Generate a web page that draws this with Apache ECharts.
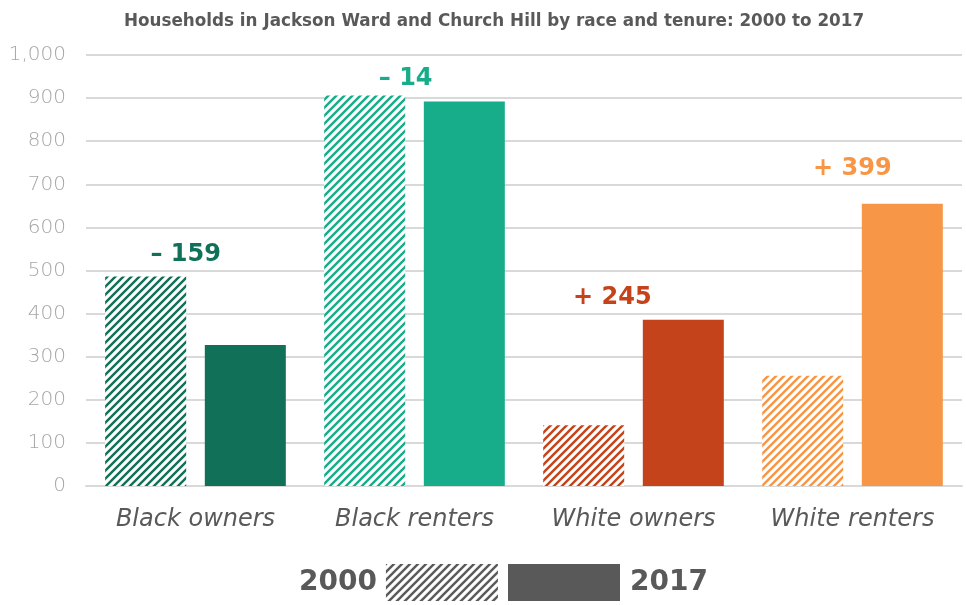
<!DOCTYPE html>
<html>
<head>
<meta charset="utf-8">
<script src="https://cdn.jsdelivr.net/npm/echarts@6/dist/echarts.min.js"></script>
<style>
  html, body { margin: 0; padding: 0; background: #fff; }
  #main { width: 966px; height: 605px; }
</style>
</head>
<body>
<div id="main"></div>
<script>
let categories = ['Black owners', 'Black renters', 'White owners', 'White renters'];
let households2000 = [486, 906, 141, 256];
let households2017 = [327, 892, 386, 655];
let yTicks = [0, 100, 200, 300, 400, 500, 600, 700, 800, 900, 1000];

let colors = ['#117158', '#17ad8a', '#c4431a', '#f79646'];
let legendGray = '#595959';
// nudges so each change label sits roughly where it is in the original
let labelNudge = [[-10, -2], [-9, 3], [-21, -2], [0, -15]];

function hatch(color) {
  let s = 8;
  let c = document.createElement('canvas');
  c.width = s;
  c.height = s;
  let ctx = c.getContext('2d');
  ctx.fillStyle = '#fff';
  ctx.fillRect(0, 0, s, s);
  ctx.strokeStyle = color;
  ctx.lineWidth = 2.4;
  ctx.beginPath();
  ctx.moveTo(-2, s + 2); ctx.lineTo(s + 2, -2);
  ctx.moveTo(-2, 2); ctx.lineTo(2, -2);
  ctx.moveTo(s - 2, s + 2); ctx.lineTo(s + 2, s - 2);
  ctx.stroke();
  return { image: c, repeat: 'repeat' };
}

function changeText(i) {
  let d = households2017[i] - households2000[i];
  return (d < 0 ? '\u2013 ' : '+ ') + Math.abs(d);
}

function changeLabel(i, onFirst) {
  let n = labelNudge[i];
  return {
    show: true,
    position: 'top',
    distance: 8,
    offset: [(onFirst ? 50 : -50) + n[0], n[1]],
    formatter: changeText(i),
    color: colors[i],
    fontFamily: 'DejaVu Sans',
    fontWeight: 'bold',
    fontSize: 24
  };
}

let data2000 = households2000.map(function (v, i) {
  let item = { value: v, itemStyle: { color: hatch(colors[i]) } };
  if (v >= households2017[i]) item.label = changeLabel(i, true);
  return item;
});
let data2017 = households2017.map(function (v, i) {
  let item = { value: v, itemStyle: { color: colors[i] } };
  if (v > households2000[i]) item.label = changeLabel(i, false);
  return item;
});

let myChart = echarts.init(document.getElementById('main'));

let legendText = {
  fontFamily: 'DejaVu Sans',
  fontWeight: 'bold',
  fontSize: 28,
  color: legendGray
};

let option = {
  animation: false,
  title: {
    text: 'Households in Jackson Ward and Church Hill by race and tenure: 2000 to 2017',
    left: 489,
    textAlign: 'center',
    top: 8,
    textStyle: {
      fontFamily: 'DejaVu Sans',
      fontWeight: 'bold',
      fontSize: 16.8,
      color: legendGray
    }
  },
  legend: [
    {
      data: [{ name: '2000', icon: 'rect', itemStyle: { color: hatch(legendGray) } }],
      align: 'right',
      left: 294,
      top: 559,
      itemWidth: 112,
      itemHeight: 37,
      selectedMode: false,
      textStyle: Object.assign({}, legendText, { padding: [0, 4, 0, 0] })
    },
    {
      data: [{ name: '2017', icon: 'rect', itemStyle: { color: legendGray } }],
      align: 'left',
      left: 503,
      top: 559,
      itemWidth: 112,
      itemHeight: 37,
      selectedMode: false,
      textStyle: Object.assign({}, legendText, { padding: [0, 0, 0, 5] })
    }
  ],
  grid: { left: 86, right: 4, top: 55, bottom: 119 },
  xAxis: {
    type: 'category',
    data: categories,
    axisTick: { show: false },
    axisLine: { lineStyle: { color: '#d9d9d9', width: 2 } },
    axisLabel: {
      margin: 22,
      fontFamily: 'DejaVu Sans',
      fontStyle: 'italic',
      fontSize: 24,
      color: legendGray
    }
  },
  yAxis: {
    type: 'value',
    min: yTicks[0],
    max: yTicks[yTicks.length - 1],
    interval: 100,
    axisLine: { show: false },
    axisTick: { show: false },
    splitLine: { lineStyle: { color: '#d9d9d9', width: 2 } },
    axisLabel: {
      margin: 20,
      fontFamily: 'DejaVu Sans',
      fontWeight: 200,
      fontSize: 20,
      color: '#a6a6a6',
      formatter: function (v) {
        return v.toLocaleString('en-US');
      }
    }
  },
  series: [
    {
      name: '2000',
      type: 'bar',
      barWidth: 81,
      barGap: '23%',
      itemStyle: { color: hatch(legendGray) },
      data: data2000
    },
    {
      name: '2017',
      type: 'bar',
      barWidth: 81,
      itemStyle: { color: legendGray },
      data: data2017
    }
  ]
};

myChart.setOption(option);
</script>
</body>
</html>
